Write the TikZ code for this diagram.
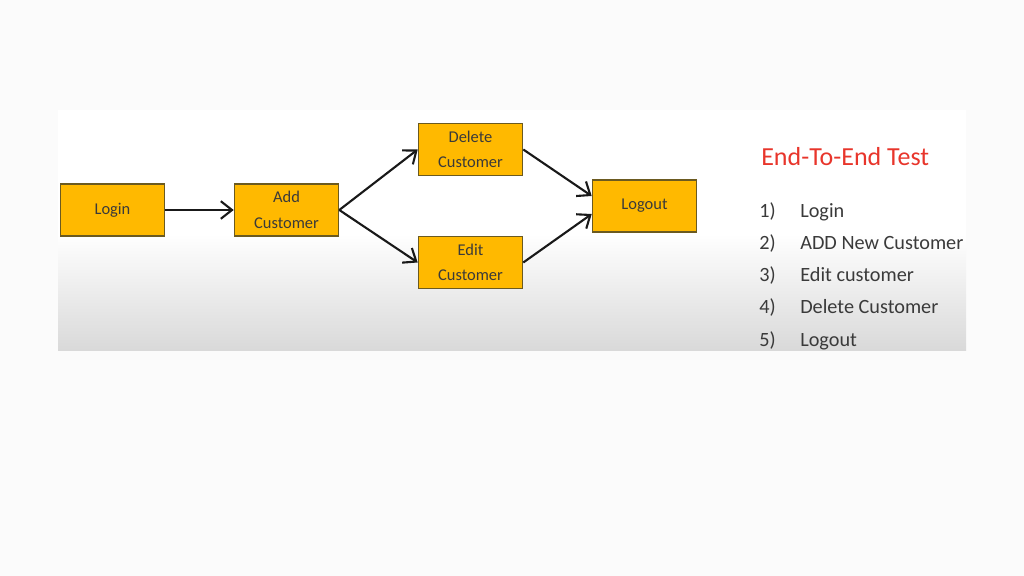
\documentclass[tikz,border=0pt]{standalone}
\usepackage{fontspec}
\setmainfont{Carlito}
\usetikzlibrary{arrows.meta,positioning}
\definecolor{boxfill}{HTML}{FFB900}
\definecolor{boxline}{HTML}{6B5A20}
\definecolor{txtgray}{HTML}{3A3A3A}
\definecolor{titlered}{HTML}{E8352B}
\definecolor{pagebg}{HTML}{FBFBFB}
\definecolor{panelbot}{HTML}{D9D9D9}

\begin{document}
\begin{tikzpicture}[x=0.025cm, y=-0.025cm, >={Straight Barb[length=2.8mm,width=4.4mm]},
    every node/.style={align=center},
    stepbox/.style={draw=boxline, line width=1.1pt, fill=boxfill, text=txtgray,
      minimum width=2.6cm, minimum height=1.3cm, inner sep=1pt,
      font=\fontsize{11.7}{18}\selectfont},
    flow/.style={->, line width=1.5pt, black!90},
    listitem/.style={anchor=base west, text=txtgray, inner sep=0pt,
      font=\fontsize{14.4}{16}\selectfont}]
    % page and panel
    \fill[pagebg] (0,0) rectangle (1024,576);
    \useasboundingbox (0,0) rectangle (1024,576);
    \fill[white] (58,110) rectangle (966,235);
    \shade[top color=white, bottom color=panelbot] (58,234) rectangle (966,350);
    % boxes
    \node[stepbox] (login) at (112.5,210) {Login};
    \node[stepbox] (addcust) at (286.5,210) {Add\\Customer};
    \node[stepbox] (delcust) at (470.5,149.5) {Delete\\Customer};
    \node[stepbox] (editcust) at (470.5,262.5) {Edit\\Customer};
    \node[stepbox] (logout) at (644.5,206) {Logout};
    % arrows
    \draw[flow] (login) -- (addcust);
    \draw[flow] (addcust.east) -- (delcust.west);
    \draw[flow] (addcust.east) -- (editcust.west);
    \draw[flow] (delcust.east) -- ([yshift=2.5mm]logout.west);
    \draw[flow] (editcust.east) -- ([yshift=-2mm]logout.west);
    % test list
    \node[anchor=base west, text=titlered, inner sep=0pt,
      font=\fontsize{18.5}{21}\selectfont] (title) at (761,166) {End-To-End Test};
    \foreach \n/\item [count=\i] in {1/Login, 2/ADD New Customer, 3/Edit customer,
        4/Delete Customer, 5/Logout} {
      \node[listitem] (num\i) at (759,{218+32*(\i-1)}) {\n)};
      \node[listitem] (item\i) at (800,{218+32*(\i-1)}) {\item};
    }
\end{tikzpicture}
\end{document}
